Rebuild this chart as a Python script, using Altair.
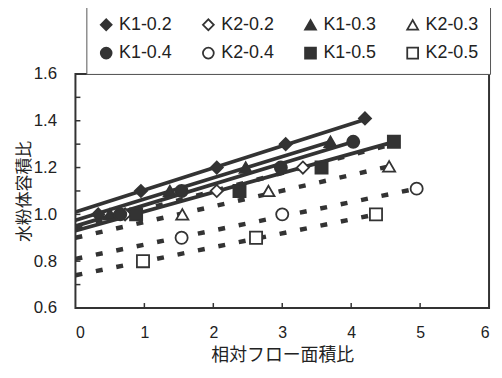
import altair as alt
import pandas as pd

# ---- data ----
series = ["K1-0.2", "K2-0.2", "K1-0.3", "K2-0.3", "K1-0.4", "K2-0.4", "K1-0.5", "K2-0.5"]
shapes = ["diamond", "diamond", "triangle-up", "triangle-up", "circle", "circle", "square", "square"]
fills = ["#333333", "white", "#333333", "white", "#333333", "white", "#333333", "white"]
strokes = ["#333333"] * 8

k1_02_x = [0.33, 0.95, 2.05, 3.05, 4.2]
k1_02_y = [1.00, 1.10, 1.20, 1.30, 1.41]
k2_02_x = [0.72, 2.05, 3.3]
k2_02_y = [1.00, 1.10, 1.20]
k1_03_x = [0.5, 1.37, 2.47, 3.7]
k1_03_y = [1.00, 1.10, 1.20, 1.31]
k2_03_x = [1.55, 2.8, 4.55]
k2_03_y = [1.00, 1.10, 1.205]
k1_04_x = [0.65, 1.54, 2.98, 4.03]
k1_04_y = [1.00, 1.10, 1.20, 1.31]
k2_04_x = [1.54, 3.0, 4.95]
k2_04_y = [0.90, 1.00, 1.11]
k1_05_x = [0.88, 2.38, 3.57, 4.62]
k1_05_y = [1.00, 1.10, 1.20, 1.31]
k2_05_x = [0.98, 2.62, 4.36]
k2_05_y = [0.80, 0.90, 1.00]

# fitted lines (start / end) per series, same order as `series`
fit_x0 = [0, 0, 0, 0, 0, 0, 0, 0]
fit_y0 = [1.01, 0.945, 0.975, 0.90, 0.95, 0.81, 0.93, 0.74]
fit_x1 = [4.2, 4.6, 3.7, 4.55, 4.03, 4.95, 4.62, 4.36]
fit_y1 = [1.405, 1.30, 1.31, 1.205, 1.31, 1.11, 1.31, 1.00]
fit_dashed = [False, True, False, True, False, True, False, True]

y_label_values = [0.6, 0.8, 1.0, 1.2, 1.4, 1.6]
y_tick_values = [0.7, 0.8, 0.9, 1.0, 1.1, 1.2, 1.3, 1.4, 1.5]
x_label_values = [0, 1, 2, 3, 4, 5, 6]
x_tick_values = [1, 2, 3, 4, 5]

# ---- tables ----
pts_x = [k1_02_x, k2_02_x, k1_03_x, k2_03_x, k1_04_x, k2_04_x, k1_05_x, k2_05_x]
pts_y = [k1_02_y, k2_02_y, k1_03_y, k2_03_y, k1_04_y, k2_04_y, k1_05_y, k2_05_y]
rows = []
for s, xs, ys in zip(series, pts_x, pts_y):
    for x, y in zip(xs, ys):
        rows.append({"series": s, "x": x, "y": y})
points = pd.DataFrame(rows)

fits = pd.DataFrame({"series": series, "x0": fit_x0, "y0": fit_y0,
                     "x1": fit_x1, "y1": fit_y1, "dashed": fit_dashed})

W, H = 417, 236
FONT = "Liberation Sans"
CJK = "Noto Sans CJK JP"
INK = "#333333"

xscale = alt.Scale(domain=[0, 6], nice=False)
yscale = alt.Scale(domain=[0.6, 1.6], nice=False)

xaxis = alt.Axis(values=x_label_values, format="d", ticks=False, domain=False, grid=False,
                 labelFont=FONT, labelFontSize=16, labelColor="#222", labelPadding=17,
                 title="相対フロー面積比", titleFont=CJK, titleFontSize=18,
                 titleFontWeight="normal", titleColor="#222", titlePadding=6)
yaxis = alt.Axis(values=y_label_values, format=".1f", ticks=False, domain=False, grid=False,
                 labelFont=FONT, labelFontSize=17, labelColor="#222", labelPadding=19,
                 title="水粉体容積比", titleFont=CJK, titleFontSize=17,
                 titleFontWeight="normal", titleColor="#222", titlePadding=0)

base_x = alt.X("x0:Q", scale=xscale, axis=xaxis)
base_y = alt.Y("y0:Q", scale=yscale, axis=yaxis)

solid = alt.Chart(fits).transform_filter("!datum.dashed").mark_rule(
    color=INK, strokeWidth=3.8, strokeCap="butt"
).encode(x=base_x, y=base_y, x2="x1:Q", y2="y1:Q")

dash = alt.Chart(fits).transform_filter("datum.dashed").mark_rule(
    color=INK, strokeWidth=4.5, strokeDash=[7, 14], strokeCap="butt"
).encode(x=base_x, y=base_y, x2="x1:Q", y2="y1:Q")

legend = alt.Legend(orient="none", legendX=11, legendY=-70, columns=4, direction="horizontal",
                    title=None, strokeColor="#555", padding=11, columnPadding=26, rowPadding=9,
                    labelFont=FONT, labelFontSize=18, labelColor="#222", labelOffset=4,
                    symbolSize=120, symbolStrokeWidth=1.8, fillColor="white")

pts = alt.Chart(points).mark_point(
    filled=False, strokeWidth=1.8, size=150, opacity=1
).encode(
    x=alt.X("x:Q", scale=xscale),
    y=alt.Y("y:Q", scale=yscale),
    stroke=alt.Stroke("series:N", scale=alt.Scale(domain=series, range=strokes), legend=legend),
    shape=alt.Shape("series:N", scale=alt.Scale(domain=series, range=shapes), legend=legend),
    fill=alt.Fill("series:N", scale=alt.Scale(domain=series, range=fills), legend=legend),
)

ytick_df = pd.DataFrame({"v": y_tick_values})
xtick_df = pd.DataFrame({"v": x_tick_values})
yticks = alt.Chart(ytick_df).mark_rule(color=INK, strokeWidth=1.5).encode(
    y=alt.Y("v:Q", scale=yscale), x=alt.value(0), x2=alt.value(5))
xticks = alt.Chart(xtick_df).mark_rule(color=INK, strokeWidth=1.5).encode(
    x=alt.X("v:Q", scale=xscale), y=alt.value(H), y2=alt.value(H - 5))

chart = alt.layer(solid, dash, yticks, xticks, pts).properties(
    width=W, height=H,
    autosize=alt.AutoSizeParams(type="none"),
    padding={"left": 68, "top": 65, "right": 5, "bottom": 57},
    background="white",
).configure_view(stroke=INK, strokeWidth=2)

chart.save("out.html", embed_options={"renderer": "svg", "actions": False})
